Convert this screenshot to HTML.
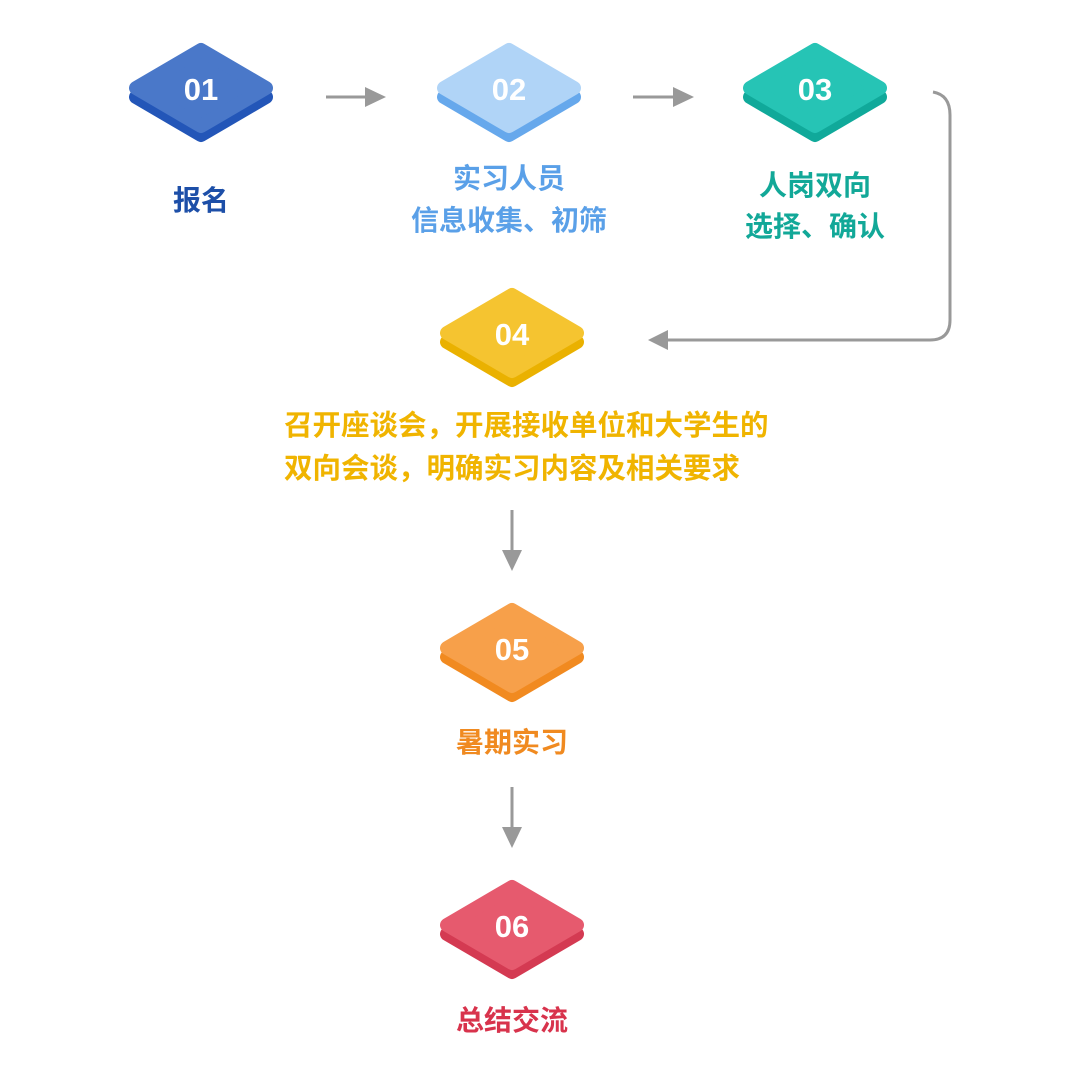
<!DOCTYPE html>
<html><head><meta charset="utf-8"><style>
body{margin:0;background:#fff}
svg text{font-family:"Liberation Sans","Noto Sans CJK SC",sans-serif;font-weight:bold}
</style></head><body>
<svg width="1080" height="1080" viewBox="0 0 1080 1080" xmlns="http://www.w3.org/2000/svg">
<g stroke-linejoin="round" stroke-width="14">
<path d="M201,59 L266,97 L201,135 L136,97 Z" fill="#2356b8" stroke="#2356b8"/>
<path d="M201,50 L266,88 L201,126 L136,88 Z" fill="#4a78c9" stroke="#4a78c9"/>
<path d="M509,59 L574,97 L509,135 L444,97 Z" fill="#66a8ec" stroke="#66a8ec"/>
<path d="M509,50 L574,88 L509,126 L444,88 Z" fill="#b0d4f7" stroke="#b0d4f7"/>
<path d="M815,59 L880,97 L815,135 L750,97 Z" fill="#10a99a" stroke="#10a99a"/>
<path d="M815,50 L880,88 L815,126 L750,88 Z" fill="#26c4b5" stroke="#26c4b5"/>
<path d="M512,304 L577,342 L512,380 L447,342 Z" fill="#eab100" stroke="#eab100"/>
<path d="M512,295 L577,333 L512,371 L447,333 Z" fill="#f5c430" stroke="#f5c430"/>
<path d="M512,619 L577,657 L512,695 L447,657 Z" fill="#f18a20" stroke="#f18a20"/>
<path d="M512,610 L577,648 L512,686 L447,648 Z" fill="#f7a04a" stroke="#f7a04a"/>
<path d="M512,896 L577,934 L512,972 L447,934 Z" fill="#d43a52" stroke="#d43a52"/>
<path d="M512,887 L577,925 L512,963 L447,925 Z" fill="#e65a6e" stroke="#e65a6e"/>
</g>
<g fill="#fff" font-size="31" text-anchor="middle">
<text x="201" y="100">01</text><text x="509" y="100">02</text><text x="815" y="100">03</text>
<text x="512" y="345">04</text><text x="512" y="660">05</text><text x="512" y="937">06</text>
</g>
<g font-size="28" text-anchor="middle">
<text x="201" y="210" fill="#1d4fa8">报名</text>
<text x="509" y="188" fill="#5aa0e8">实习人员</text>
<text x="509" y="230" fill="#5aa0e8">信息收集、初筛</text>
<text x="815" y="195" fill="#12a898">人岗双向</text>
<text x="815" y="236" fill="#12a898">选择、确认</text>
<text x="512" y="752" fill="#f08a20">暑期实习</text>
<text x="512" y="1030" fill="#d8334c">总结交流</text>
</g>
<g font-size="28.5" fill="#f0b400">
<text x="284" y="435">召开座谈会，开展接收单位和大学生的</text>
<text x="284" y="478">双向会谈，明确实习内容及相关要求</text>
</g>
<g stroke="#999" stroke-width="3" fill="none">
<line x1="326" y1="97" x2="368" y2="97"/>
<line x1="633" y1="97" x2="676" y2="97"/>
<path d="M933,92 Q950,95 950,115 L950,320 Q950,340 930,340 L665,340"/>
<line x1="512" y1="510" x2="512" y2="553"/>
<line x1="512" y1="787" x2="512" y2="830"/>
</g>
<g fill="#999">
<polygon points="365,87 386,97 365,107"/>
<polygon points="673,87 694,97 673,107"/>
<polygon points="668,330 648,340 668,350"/>
<polygon points="502,550 512,571 522,550"/>
<polygon points="502,827 512,848 522,827"/>
</g>
</svg>
</body></html>
